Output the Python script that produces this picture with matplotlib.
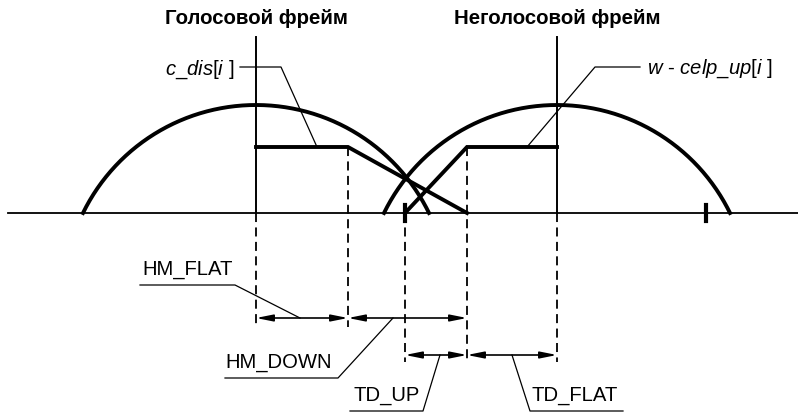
import numpy as np
import matplotlib
matplotlib.use("Agg")
import matplotlib.pyplot as plt

plt.rcParams['font.family'] = ['Liberation Sans', 'DejaVu Sans']
plt.rcParams['mathtext.fontset'] = 'custom'
plt.rcParams['mathtext.rm'] = 'Liberation Sans'
plt.rcParams['mathtext.it'] = 'Liberation Sans:italic'

# frame windows (centre x, half chord, top), baseline at y=214
baseline_y = 214
frame_titles = ['Голосовой фрейм', 'Неголосовой фрейм']
frame_centers = [256, 557]
frame_halfwidth = 173
frame_top = 106

# c_dis trapezoid (voiced) and w - celp_up (unvoiced)
cdis_x = [256, 348, 467]
cdis_y = [148, 148, 214]
celp_x = [405, 467, 557]
celp_y = [214, 148, 148]
tick_marks = [405, 706]

# dimension lines: (x0, x1, y)
dims = {
    'HM_FLAT': (256, 348, 319),
    'HM_DOWN': (348, 467, 319),
    'TD_UP': (405, 467, 356),
    'TD_FLAT': (467, 557, 356),
}
# dashed extension lines: (x, y_top, y_bottom)
dashed = [(256, 214, 328), (348, 148, 328), (405, 214, 363),
          (467, 148, 363), (557, 214, 363)]

fig = plt.figure(figsize=(7.98, 4.14), dpi=100)
ax = fig.add_axes([0, 0, 1, 1])
ax.set_xlim(0, 798)
ax.set_ylim(414, 0)
ax.axis('off')

# baseline
ax.plot([8, 798], [baseline_y, baseline_y], color='black', lw=1.3)

# circular arc segments (chord on the baseline)
sag = baseline_y - frame_top
R = (frame_halfwidth ** 2 + sag ** 2) / (2 * sag)
phi = np.arcsin(frame_halfwidth / R)
t = np.linspace(-phi, phi, 300)
for cx in frame_centers:
    cy = frame_top + R
    ax.plot(cx + R * np.sin(t), cy - R * np.cos(t), color='black', lw=2.8)
    ax.plot([cx, cx], [38, baseline_y], color='black', lw=1.4)

for title, cx in zip(frame_titles, frame_centers):
    ax.text(cx, 18, title, ha='center', va='center', fontsize=14.7,
            fontweight='bold')

# trapezoids
ax.plot(cdis_x, cdis_y, color='black', lw=2.8, solid_joinstyle='miter')
ax.plot(celp_x, celp_y, color='black', lw=2.8, solid_joinstyle='miter')

for x in tick_marks:
    ax.plot([x, x], [206, 222], color='black', lw=3)

for x, y0, y1 in dashed:
    ax.plot([x, x], [y0, y1], color='black', lw=1.3, ls=(0, (5, 3)))

for name, (x0, x1, y) in dims.items():
    ax.annotate('', xy=(x1, y), xytext=(x0, y),
                arrowprops=dict(arrowstyle='<|-|>,head_length=1.0,head_width=0.2',
                                color='black', lw=1.2, shrinkA=0, shrinkB=0))

# leaders
leaders = [
    ([140, 235, 300], [286, 286, 319]),
    ([225, 338, 393], [379, 379, 319]),
    ([350, 423, 440], [412, 412, 356]),
    ([623, 530, 512], [412, 412, 356]),
    ([240, 281, 317], [68, 68, 148]),
    ([640, 595, 527], [68, 68, 148]),
]
for lx, ly in leaders:
    ax.plot(lx, ly, color='black', lw=0.9)

lab_fs = 14.6
ax.text(142, 270, 'HM_FLAT', ha='left', va='center', fontsize=lab_fs)
ax.text(225, 363, 'HM_DOWN', ha='left', va='center', fontsize=lab_fs)
ax.text(353, 396, 'TD_UP', ha='left', va='center', fontsize=lab_fs)
ax.text(532, 396, 'TD_FLAT', ha='left', va='center', fontsize=lab_fs)
ax.text(234, 70, r'$\mathit{c\_dis}$[$\mathit{i}$ ]', ha='right', va='center',
        fontsize=lab_fs)
ax.text(647, 69, r'$\mathit{w}$ - $\mathit{celp\_up}$[$\mathit{i}$ ]',
        ha='left', va='center', fontsize=lab_fs)

fig.savefig('out.png', dpi=100, facecolor='white')
